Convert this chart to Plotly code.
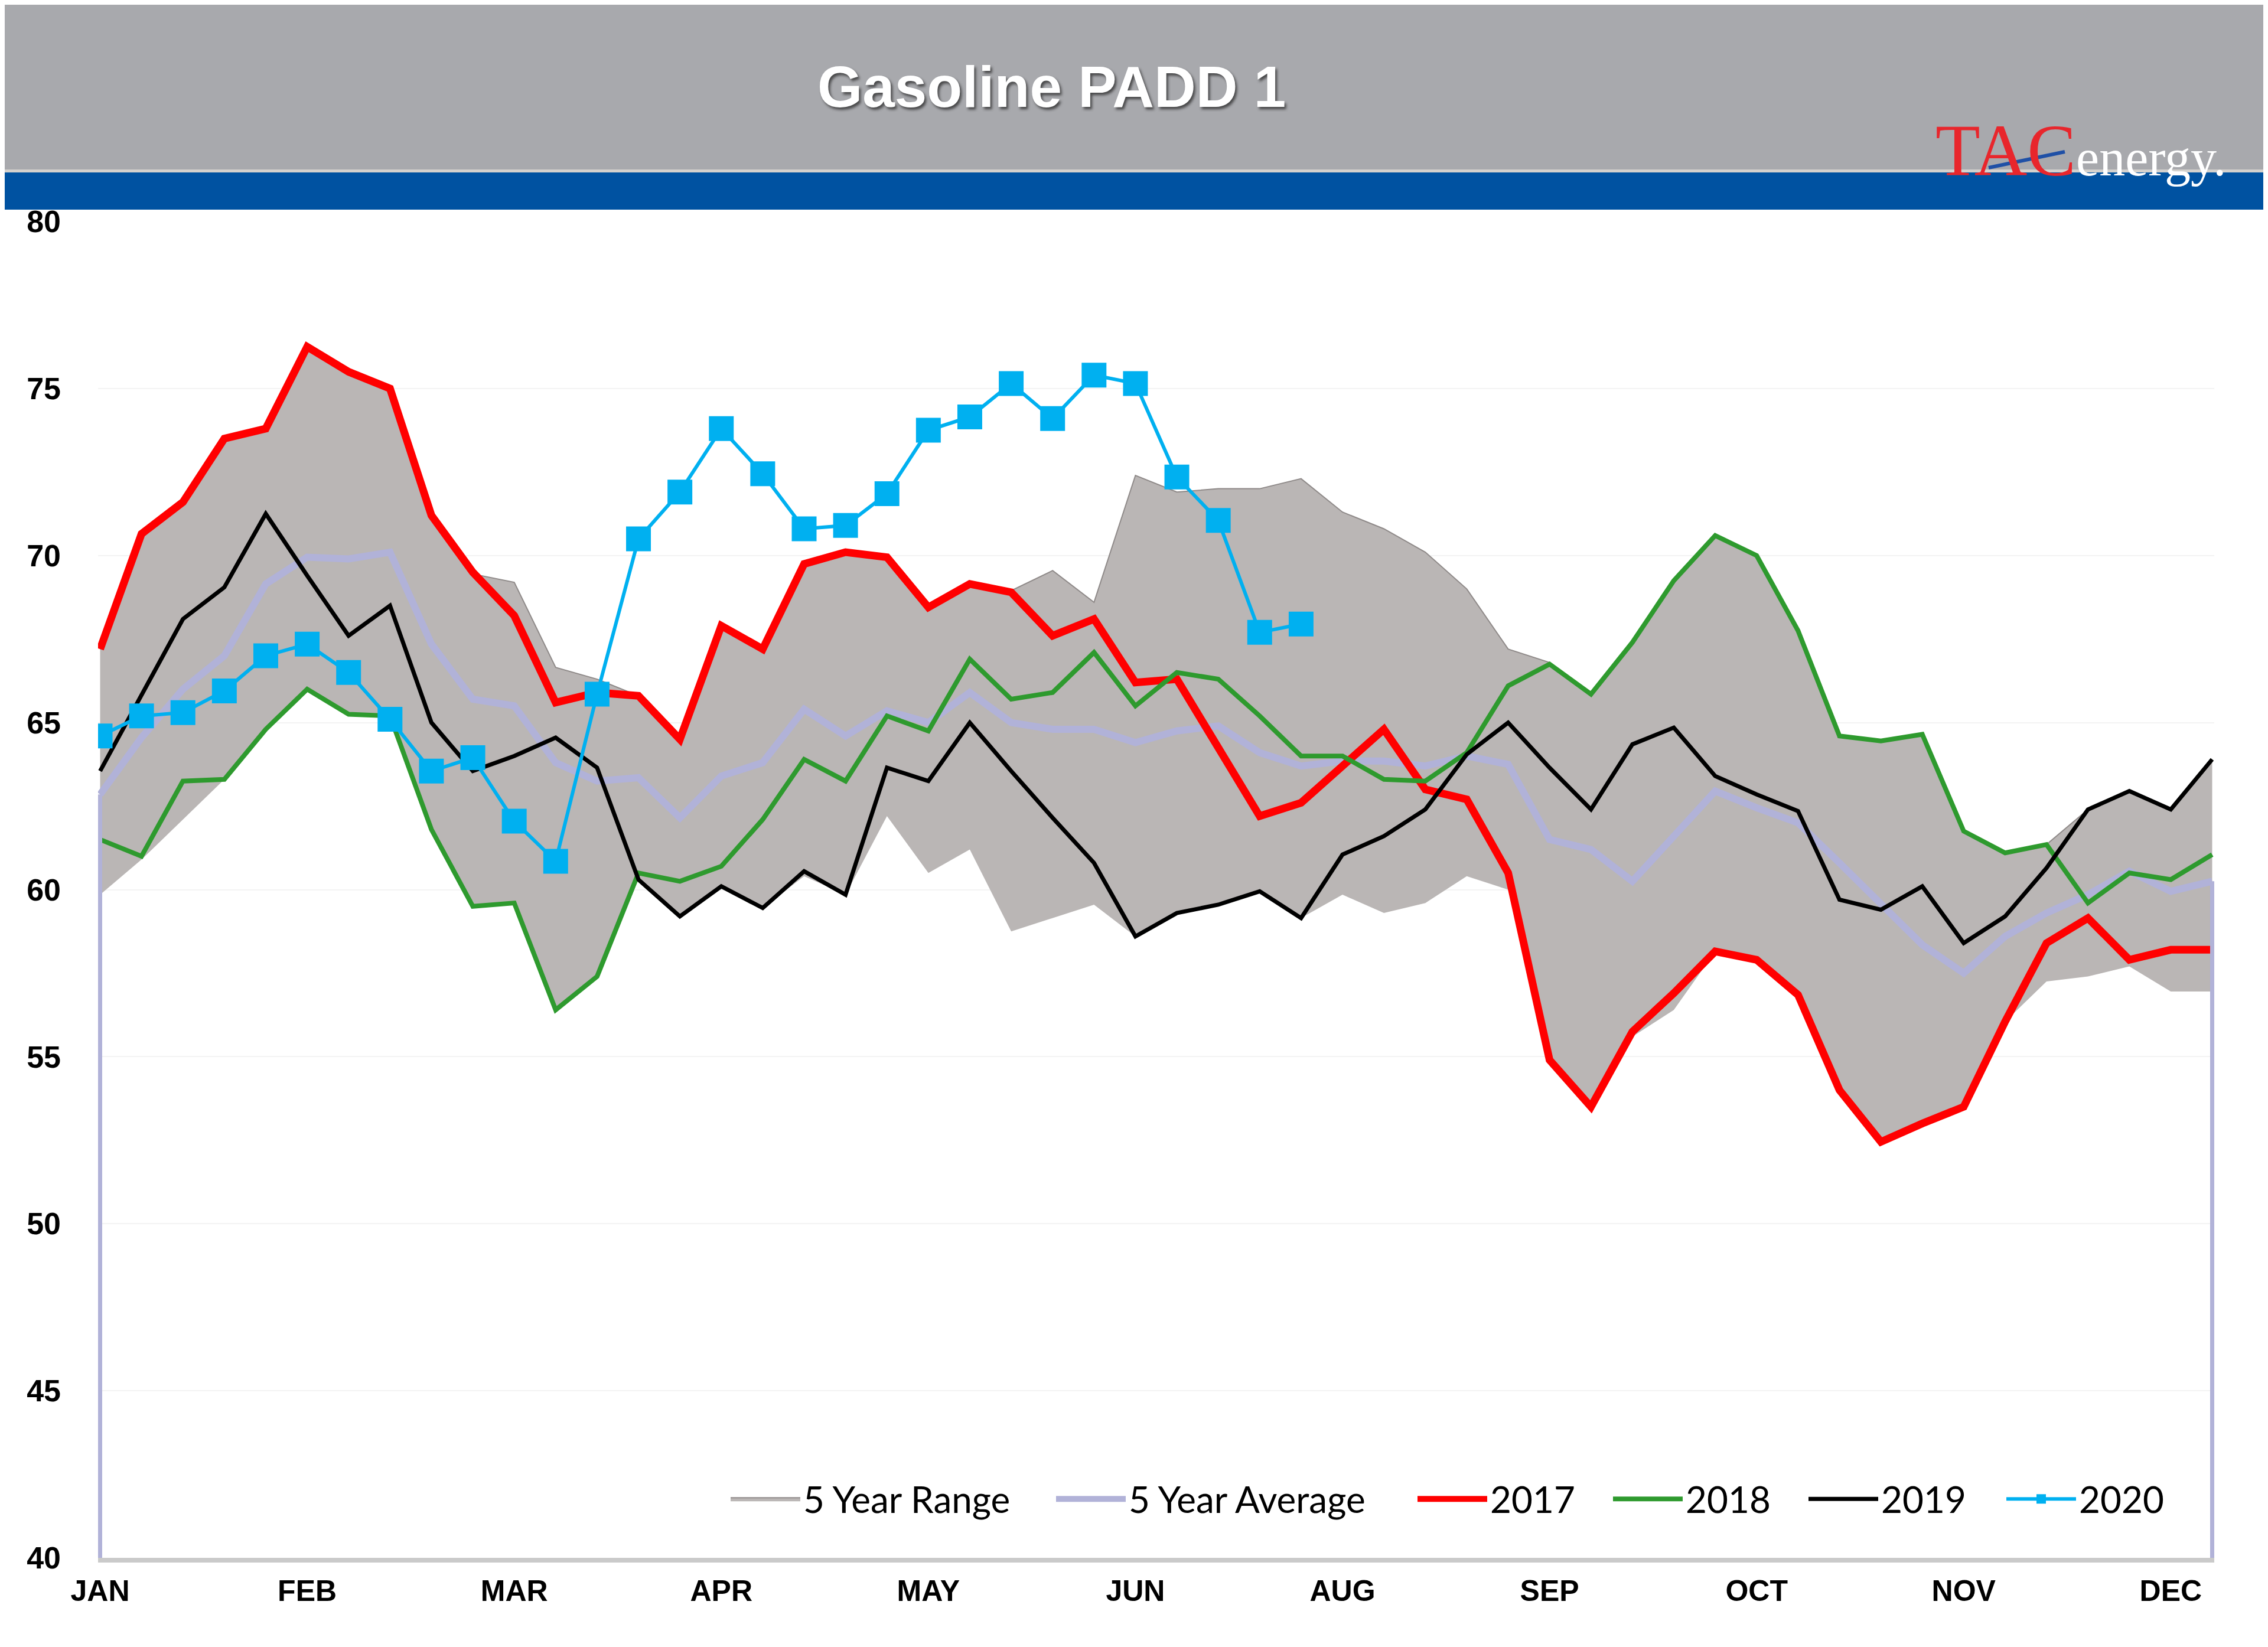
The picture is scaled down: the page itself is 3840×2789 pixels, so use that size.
import plotly.graph_objects as go

# weekly data, week 1..52
WEEKS = list(range(1, 53))
MONTH_LABELS = ["JAN", "FEB", "MAR", "APR", "MAY", "JUN", "AUG", "SEP", "OCT", "NOV", "DEC"]
Y_TICKS = [40, 45, 50, 55, 60, 65, 70, 75, 80]

RANGE_LOW = [59.85, 60.9, 62.1, 63.3, 64.8, 66.0, 65.25, 65.2, 61.8, 59.5,
             59.6, 56.4, 57.4, 60.3, 59.2, 60.1, 59.45, 60.4, 59.85, 62.2,
             60.5, 61.2, 58.75, 59.15, 59.55, 58.6, 59.3, 59.55, 59.95, 59.15,
             59.85, 59.3, 59.6, 60.4, 60.0, 54.9, 53.5, 55.6, 56.4, 58.15,
             57.9, 56.85, 54.0, 52.45, 53.0, 53.5, 56.05, 57.25, 57.4, 57.7,
             56.95, 56.95]
RANGE_HIGH = [67.2, 70.65, 71.6, 73.5, 73.8, 76.25, 75.5, 75.0, 71.2, 69.45,
              69.2, 66.65, 66.3, 65.8, 64.5, 67.9, 67.2, 69.75, 70.1, 69.95,
              68.45, 69.15, 68.95, 69.55, 68.6, 72.4, 71.9, 72.0, 72.0, 72.3,
              71.3, 70.8, 70.1, 69.0, 67.2, 66.8, 65.85, 67.4, 69.25, 70.6,
              70.0, 67.75, 64.6, 64.45, 64.65, 61.75, 61.1, 61.35, 62.4, 63.0,
              62.4, 63.9]
AVG_5YR = [62.85, 64.55, 66.0, 67.0, 69.15, 69.95, 69.9, 70.1, 67.35, 65.7,
           65.5, 63.8, 63.25, 63.35, 62.15, 63.4, 63.8, 65.4, 64.6, 65.35,
           65.0, 65.9, 65.0, 64.8, 64.8, 64.4, 64.75, 64.9, 64.1, 63.7,
           63.85, 63.85, 63.7, 64.0, 63.75, 61.5, 61.2, 60.25, 61.6, 62.95,
           62.45, 62.0, 60.8, 59.6, 58.35, 57.5, 58.6, 59.3, 59.85, 60.55,
           59.95, 60.25]
Y2017 = [67.2, 70.65, 71.6, 73.5, 73.8, 76.25, 75.5, 75.0, 71.2, 69.5,
         68.2, 65.6, 65.9, 65.8, 64.5, 67.9, 67.2, 69.75, 70.1, 69.95,
         68.45, 69.15, 68.9, 67.6, 68.1, 66.2, 66.3, 64.3, 62.2, 62.6,
         63.7, 64.8, 63.0, 62.7, 60.5, 54.9, 53.5, 55.75, 56.9, 58.15,
         57.9, 56.85, 54.0, 52.45, 53.0, 53.5, 56.05, 58.4, 59.15, 57.9,
         58.2, 58.2]
Y2018 = [61.5, 61.0, 63.25, 63.3, 64.8, 66.0, 65.25, 65.2, 61.8, 59.5,
         59.6, 56.4, 57.4, 60.5, 60.25, 60.7, 62.1, 63.9, 63.25, 65.2,
         64.75, 66.9, 65.7, 65.9, 67.1, 65.5, 66.5, 66.3, 65.2, 64.0,
         64.0, 63.3, 63.25, 64.1, 66.1, 66.75, 65.85, 67.4, 69.25, 70.6,
         70.0, 67.75, 64.6, 64.45, 64.65, 61.75, 61.1, 61.35, 59.6, 60.5,
         60.3, 61.05]
Y2019 = [63.55, 65.85, 68.1, 69.05, 71.25, 69.4, 67.6, 68.5, 65.0, 63.55,
         64.0, 64.55, 63.65, 60.3, 59.2, 60.1, 59.45, 60.55, 59.85, 63.65,
         63.25, 65.0, 63.55, 62.15, 60.8, 58.6, 59.3, 59.55, 59.95, 59.15,
         61.05, 61.6, 62.4, 64.05, 65.0, 63.65, 62.4, 64.35, 64.85, 63.4,
         62.85, 62.35, 59.7, 59.4, 60.1, 58.4, 59.2, 60.65, 62.4, 62.95,
         62.4, 63.9]
Y2020 = [64.6, 65.2, 65.3, 65.95, 67.0, 67.35, 66.5, 65.1, 63.55, 63.95,
         62.05, 60.85, 65.85, 70.5, 71.9, 73.8, 72.45, 70.8, 70.9, 71.85,
         73.75, 74.15, 75.15, 74.1, 75.4, 75.15, 72.35, 71.05, 67.7, 67.95]

RANGE_FILL = "#bab6b5"
AVG_COLOR = "#b1b2d8"
RED = "#ff0000"
GREEN = "#2e9a2e"
CYAN = "#00b0f0"
HEADER_GRAY = "#a8a9ad"
HEADER_BLUE = "#0052a1"

W, H = 3840, 2789
OFFX, OFFY = 5, 8  # page body offset
M = dict(l=163 - OFFX, r=94 + OFFX, t=375 - OFFY, b=151 + OFFY)


def px_x(x):
    return (x - OFFX - M["l"]) / (W - M["l"] - M["r"])


def px_y(y):
    return (H - M["b"] - (y - OFFY)) / (H - M["t"] - M["b"])


fig = go.Figure()

# 5 year range as a band between low and high
fig.add_trace(go.Scatter(x=WEEKS, y=RANGE_LOW, mode="lines", line=dict(width=0, color=RANGE_FILL),
                         showlegend=False, hoverinfo="skip"))
fig.add_trace(go.Scatter(x=WEEKS, y=RANGE_HIGH, mode="lines", name="5 Year Range",
                         fill="tonexty", fillcolor=RANGE_FILL, legend="legend",
                         line=dict(width=2, color="#8f8a89")))

fig.add_trace(go.Scatter(x=WEEKS, y=AVG_5YR, mode="lines", name="5 Year Average", legend="legend2",
                         line=dict(color=AVG_COLOR, width=12)))
fig.add_trace(go.Scatter(x=WEEKS, y=Y2017, mode="lines", name="2017", legend="legend3",
                         line=dict(color=RED, width=13)))
fig.add_trace(go.Scatter(x=WEEKS, y=Y2018, mode="lines", name="2018", legend="legend4",
                         line=dict(color=GREEN, width=8)))
fig.add_trace(go.Scatter(x=WEEKS, y=Y2019, mode="lines", name="2019", legend="legend5",
                         line=dict(color="#000000", width=7)))
fig.add_trace(go.Scatter(x=WEEKS[:len(Y2020)], y=Y2020, mode="lines+markers", name="2020",
                         legend="legend6",
                         line=dict(color=CYAN, width=6),
                         marker=dict(symbol="square", size=42, color=CYAN)))

shapes = [
    # header bands
    dict(type="rect", xref="paper", yref="paper", x0=px_x(0), x1=px_x(W + 20), y0=px_y(288), y1=px_y(0),
         fillcolor=HEADER_GRAY, line_width=0, layer="above"),
    dict(type="rect", xref="paper", yref="paper", x0=px_x(0), x1=px_x(W + 20), y0=px_y(292), y1=px_y(287),
         fillcolor="#d4d1cd", line_width=0, layer="above"),
    dict(type="rect", xref="paper", yref="paper", x0=px_x(0), x1=px_x(W + 20), y0=px_y(355), y1=px_y(292),
         fillcolor=HEADER_BLUE, line_width=0, layer="above"),
    dict(type="line", xref="paper", yref="paper", x0=px_x(3364), x1=px_x(3493), y0=px_y(284), y1=px_y(257),
         line=dict(color="#1f50a6", width=6), layer="above"),
    # average series edges drop to the axis floor
    dict(type="line", x0=WEEKS[0], x1=WEEKS[0], y0=Y_TICKS[0], y1=AVG_5YR[0],
         line=dict(color=AVG_COLOR, width=7), layer="above"),
    dict(type="line", x0=WEEKS[-1], x1=WEEKS[-1], y0=Y_TICKS[0], y1=AVG_5YR[-1],
         line=dict(color=AVG_COLOR, width=7), layer="above"),
]

annotations = [
    dict(text="<b>Gasoline PADD 1</b>", xref="paper", yref="paper", x=px_x(1777), y=px_y(147),
         xanchor="center", yanchor="middle", showarrow=False,
         font=dict(family="Liberation Sans, Arial", size=98, color="white",
                   shadow="3px 4px 4px rgba(40,40,40,0.75)")),
    dict(text="<span style='color:#e8262c;font-size:124px'>TAC</span>"
              "<span style='color:white;font-size:88px'>energy.</span>",
         xref="paper", yref="paper", x=px_x(3272), y=px_y(256),
         xanchor="left", yanchor="middle", showarrow=False,
         font=dict(family="Liberation Serif, Times New Roman", size=88, color="white")),
]

# one legend box per entry, so each entry sits where the original places it
LEGEND_X = [1237, 1788, 2400, 2731, 3062, 3397]
legend_style = dict(orientation="h", y=0.044, yanchor="middle", xanchor="left",
                    bgcolor="rgba(0,0,0,0)", itemwidth=118,
                    font=dict(family="Lato", size=62, color="black"))
legends = {}
for k, lx in enumerate(LEGEND_X):
    key = "legend" if k == 0 else "legend%d" % (k + 1)
    legends[key] = dict(legend_style, x=px_x(lx - 8))

fig.update_layout(
    width=W, height=H,
    margin=M,
    paper_bgcolor="white",
    plot_bgcolor="white",
    shapes=shapes,
    annotations=annotations,
    xaxis=dict(range=[0.95, 52.05], tickmode="array", tickvals=WEEKS[::5], ticktext=MONTH_LABELS,
               showgrid=False, zeroline=False, showline=True, linecolor="#cacaca", linewidth=8,
               ticks="", ticklabelstandoff=5,
               tickfont=dict(family="Liberation Sans, Arial", size=50, color="black", weight="bold")),
    yaxis=dict(range=[40, 80], tickmode="array", tickvals=Y_TICKS, showgrid=True,
               gridcolor="#f3f3f3", gridwidth=2, zeroline=False, showline=False,
               ticks="", ticklabelstandoff=62,
               tickfont=dict(family="Liberation Sans, Arial", size=52, color="black", weight="bold")),
    showlegend=True,
    **legends,
)

fig.write_html("out.html")
